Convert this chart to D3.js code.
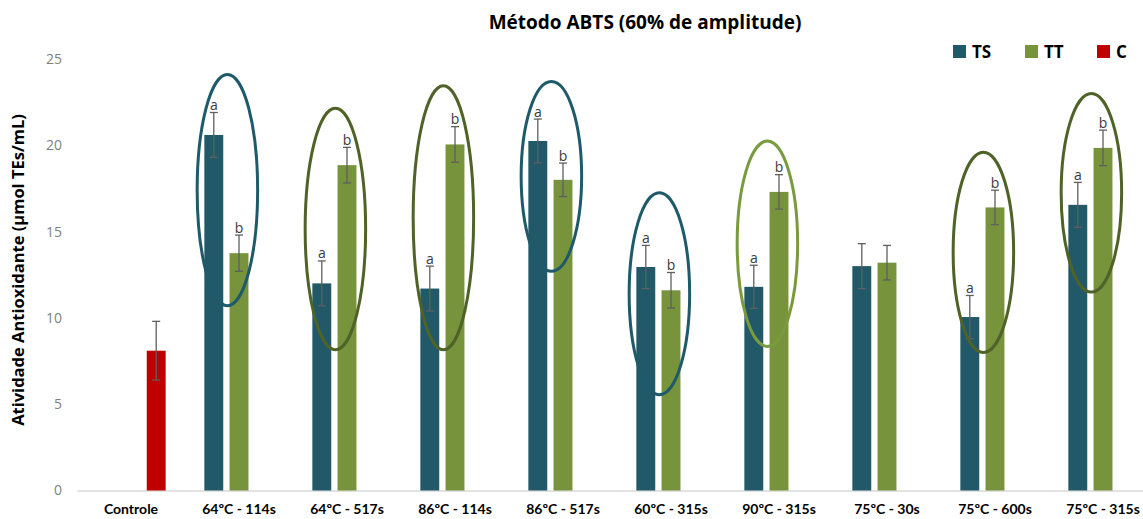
<!DOCTYPE html>
<html>
<head>
<meta charset="utf-8">
<script src="https://cdn.jsdelivr.net/npm/d3@7"></script>
<style>
  html, body { margin: 0; padding: 0; background: #fff; }
  svg { display: block; font-family: Lato, "Open Sans", sans-serif; }
</style>
</head>
<body>
<svg id="chart" width="1143" height="519"></svg>
<script>
// Categories (treatment: temperature - time)
const categories = ["Controle", "64ºC - 114s", "64ºC - 517s", "86ºC - 114s", "86ºC - 517s",
                    "60ºC - 315s", "90ºC - 315s", "75ºC - 30s", "75ºC - 600s", "75ºC - 315s"];
const seriesNames = ["TS", "TT", "C"];

// Mean antioxidant activity (µmol TEs/mL); null = no bar
const tsValues = [null, 20.6, 12.0, 11.7, 20.25, 12.95, 11.8, 13.0, 10.05, 16.55];
const ttValues = [null, 13.75, 18.85, 20.05, 18.0, 11.6, 17.3, 13.2, 16.4, 19.85];
const cValues  = [8.1, null, null, null, null, null, null, null, null, null];

// Standard deviations
const tsErrors = [null, 1.3, 1.3, 1.3, 1.27, 1.25, 1.25, 1.3, 1.25, 1.3];
const ttErrors = [null, 1.05, 1.03, 1.03, 0.97, 1.03, 1.0, 1.0, 1.0, 1.03];
const cErrors  = [1.7, null, null, null, null, null, null, null, null, null];

// Significance letters
const tsLetters = ["", "a", "a", "a", "a", "a", "a", "", "a", "a"];
const ttLetters = ["", "b", "b", "b", "b", "b", "b", "", "b", "b"];

// Highlight rings around significantly different pairs
const ringCategories = ["64ºC - 114s", "64ºC - 517s", "86ºC - 114s", "86ºC - 517s",
                        "60ºC - 315s", "90ºC - 315s", "75ºC - 600s", "75ºC - 315s"];
const ringCenters = [17.4, 15.15, 15.8, 18.2, 11.4, 14.3, 13.8, 17.25]; // value at ring centre
const ringHalfSpans = [6.7, 7.0, 7.65, 5.5, 5.85, 5.95, 5.8, 5.75];     // half height in value units
const ringKinds = ["teal", "olive", "olive", "teal", "teal", "light", "olive", "olive"];

const yTicks = [0, 5, 10, 15, 20, 25];

const colors = { TS: "#215968", TT: "#77933C", C: "#C00000" };
const ringColors = { teal: "#1F5A6B", olive: "#4F6228", light: "#7A9A3E" };

const svg = d3.select("#chart");

const x0 = d3.scaleBand()
  .domain(categories)
  .range([77, 1157])
  .paddingInner(0.3)
  .paddingOuter(0.15);

const x1 = d3.scaleBand()
  .domain(seriesNames)
  .range([0, x0.bandwidth()])
  .paddingInner(0.25)
  .paddingOuter(0.125);

const y = d3.scaleLinear().domain([0, 25]).range([490.5, 59]);

// Title
svg.append("text")
  .attr("x", 645).attr("y", 29)
  .attr("text-anchor", "middle")
  .attr("font-family", "'Open Sans', sans-serif")
  .attr("font-size", 19).attr("font-weight", "bold").attr("fill", "#000")
  .text("Método ABTS (60% de amplitude)");

// Y axis tick labels (no axis line)
const yAxis = d3.axisLeft(y).tickValues(yTicks).tickSize(0).tickPadding(0);
const yg = svg.append("g").attr("transform", "translate(62,0)").call(yAxis);
yg.select(".domain").remove();
yg.selectAll("text")
  .attr("font-family", "'Open Sans', sans-serif")
  .attr("font-size", 14).attr("fill", "#7f7f7f");

// Y axis title
svg.append("text")
  .attr("transform", "translate(24,270) rotate(-90)")
  .attr("text-anchor", "middle")
  .attr("font-family", "'Open Sans', sans-serif")
  .attr("font-size", 16.5).attr("font-weight", "bold").attr("fill", "#000")
  .text("Atividade Antioxidante (µmol TEs/mL)");

// X axis baseline and category labels
const xAxis = d3.axisBottom(x0).tickSize(0).tickPadding(14);
const xg = svg.append("g").attr("transform", `translate(0,${y(0)})`).call(xAxis);
xg.select(".domain").attr("stroke", "#d9d9d9").attr("stroke-width", 1.5);
xg.selectAll("text")
  .attr("font-family", "Lato, 'Open Sans', sans-serif")
  .attr("font-size", 14).attr("font-weight", "bold").attr("fill", "#000");

// Flatten to bar records
const bars = [];
categories.forEach((cat, i) => {
  const vals = { TS: tsValues[i], TT: ttValues[i], C: cValues[i] };
  const errs = { TS: tsErrors[i], TT: ttErrors[i], C: cErrors[i] };
  const lets = { TS: tsLetters[i], TT: ttLetters[i], C: "" };
  seriesNames.forEach(s => {
    if (vals[s] != null) bars.push({ cat, s, v: vals[s], e: errs[s], l: lets[s] });
  });
});

const barX = d => x0(d.cat) + x1(d.s);

// Bars
svg.append("g").selectAll("rect").data(bars).join("rect")
  .attr("x", barX)
  .attr("y", d => y(d.v))
  .attr("width", x1.bandwidth())
  .attr("height", d => y(0) - y(d.v))
  .attr("fill", d => colors[d.s]);

// Error bars
const eg = svg.append("g").attr("stroke", "#5f5f5f").attr("stroke-width", 1.3);
bars.forEach(d => {
  const cx = barX(d) + x1.bandwidth() / 2;
  eg.append("line").attr("x1", cx).attr("x2", cx).attr("y1", y(d.v + d.e)).attr("y2", y(d.v - d.e));
  eg.append("line").attr("x1", cx - 4).attr("x2", cx + 4).attr("y1", y(d.v + d.e)).attr("y2", y(d.v + d.e));
  eg.append("line").attr("x1", cx - 4).attr("x2", cx + 4).attr("y1", y(d.v - d.e)).attr("y2", y(d.v - d.e));
});

// Significance letters
svg.append("g").selectAll("text").data(bars.filter(d => d.l)).join("text")
  .attr("x", d => barX(d) + x1.bandwidth() / 2)
  .attr("y", d => y(d.v + d.e) - 2.5)
  .attr("text-anchor", "middle")
  .attr("font-family", "'Open Sans', sans-serif")
  .attr("font-size", 14).attr("fill", "#3a3a3a")
  .text(d => d.l);

// Rings
const ringG = svg.append("g").attr("fill", "none").attr("stroke-width", 3);
ringCategories.forEach((cat, i) => {
  const pairCenter = x0(cat) + x1("TS") + (x1("TT") + x1.bandwidth() - x1("TS")) / 2;
  const cy = y(ringCenters[i]);
  const ry = y(0) - y(ringHalfSpans[i]);
  ringG.append("ellipse")
    .attr("cx", pairCenter + 1)
    .attr("cy", cy)
    .attr("rx", x0.step() * 0.28)
    .attr("ry", ry)
    .attr("stroke", ringColors[ringKinds[i]]);
});

// Legend
const legendX = [953, 1025, 1097];
const lg = svg.append("g");
seriesNames.forEach((s, i) => {
  lg.append("rect").attr("x", legendX[i]).attr("y", 45).attr("width", 13).attr("height", 13).attr("fill", colors[s]);
  lg.append("text").attr("x", legendX[i] + 19).attr("y", 57.5)
    .attr("font-family", "'Open Sans', sans-serif")
    .attr("font-size", 17).attr("font-weight", "bold").attr("fill", "#000").text(s);
});
</script>
</body>
</html>
